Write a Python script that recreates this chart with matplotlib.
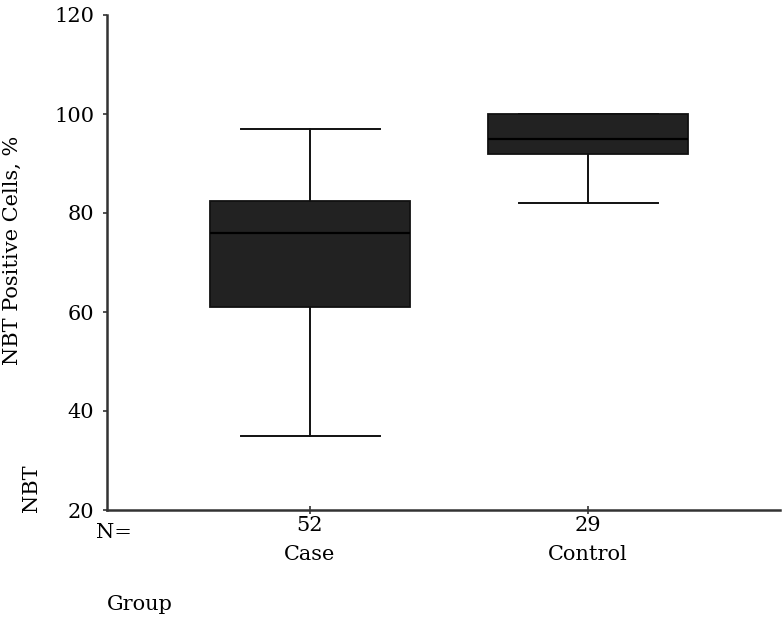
import matplotlib
matplotlib.use("Agg")
import matplotlib.pyplot as plt

groups = ["Case", "Control"]
counts = [52, 29]
whislo = [35, 82]
q1 = [61, 92]
med = [76, 95]
q3 = [82.5, 100]
whishi = [97, 100]
yticks = [20, 40, 60, 80, 100, 120]

plt.rcParams['font.family'] = ['DejaVu Serif']
fs = 15

fig = plt.figure(figsize=(7.84, 6.19), dpi=100)
ax = fig.add_axes([107/784, 1 - 510/619, (780-107)/784, (510-15)/619])

stats = []
for i, g in enumerate(groups):
    stats.append(dict(label=f"{counts[i]}\n{g}", whislo=whislo[i], q1=q1[i],
                      med=med[i], q3=q3[i], whishi=whishi[i], fliers=[]))

ax.bxp(stats, positions=[1, 2], widths=0.716, patch_artist=True,
       showfliers=False,
       boxprops=dict(facecolor="#222222", edgecolor="#111111", linewidth=1.3),
       medianprops=dict(color="#000000", linewidth=1.6),
       whiskerprops=dict(color="#111111", linewidth=1.4),
       capprops=dict(color="#111111", linewidth=1.4),
       capwidths=0.5)

ax.set_xlim(1 - 203/278, 2 + 192/278)
ax.set_ylim(20, 120)
ax.set_yticks(yticks)
ax.set_yticklabels([str(v) for v in yticks], fontsize=fs)
for lab in ax.get_xticklabels():
    lab.set_fontsize(fs)
    lab.set_linespacing(1.7)

for s in ["top", "right"]:
    ax.spines[s].set_visible(False)
for s in ["left", "bottom"]:
    ax.spines[s].set_color("#333333")
    ax.spines[s].set_linewidth(1.8)
ax.tick_params(axis="y", direction="out", length=3, width=1.2, color="#333333", pad=6)
ax.tick_params(axis="x", direction="inout", length=6, width=1.2, color="#333333", pad=1)

fig.text(12/784, 1 - 250/619, "NBT Positive Cells, %", rotation=90, fontsize=fs,
         ha="center", va="center")
fig.text(32/784, 1 - 488/619, "NBT", rotation=90, fontsize=fs, ha="center", va="center")
fig.text(96/784, 1 - 533/619, "N=", fontsize=fs, ha="left", va="center")
fig.text(107/784, 1 - 605/619, "Group", fontsize=fs, ha="left", va="center")

fig.savefig("out.png", dpi=100)
